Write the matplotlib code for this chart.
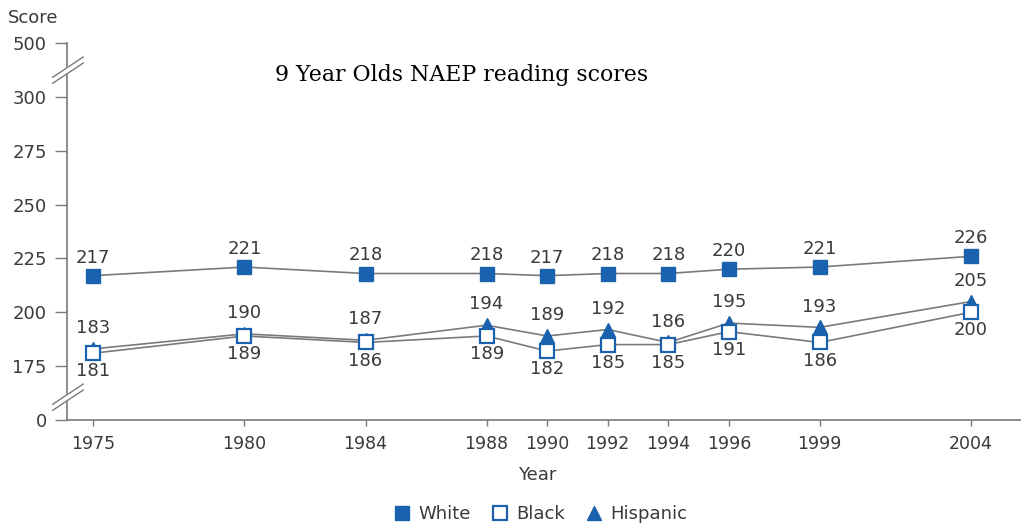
import matplotlib
matplotlib.use("Agg")
import matplotlib.pyplot as plt
from matplotlib.lines import Line2D
import matplotlib.transforms as mtransforms

years = [1975, 1980, 1984, 1988, 1990, 1992, 1994, 1996, 1999, 2004]
white = [217, 221, 218, 218, 217, 218, 218, 220, 221, 226]
black = [181, 189, 186, 189, 182, 185, 185, 191, 186, 200]
hispanic = [183, 190, 187, 194, 189, 192, 186, 195, 193, 205]

# broken axis: 0 is drawn at 150, 500 at 325
y_ticks = [150, 175, 200, 225, 250, 275, 300, 325]
y_labels = ["0", "175", "200", "225", "250", "275", "300", "500"]

blue = "#1b62ae"
linec = "#7a7a7a"
txt = "#3a3a3a"

plt.rcParams['font.family'] = ['DejaVu Sans']

fig = plt.figure(figsize=(10.21, 5.27), dpi=100)
ax = fig.add_axes([67/1021, 1-420/527, 1-67/1021, (420-43)/527])

ax.plot(years, white, color=linec, lw=1.2, marker='s', ms=10.5, mfc=blue, mec=blue, zorder=3)
ax.plot(years, hispanic, color=linec, lw=1.2, marker='^', ms=10.5, mfc=blue, mec=blue, zorder=3)
ax.plot(years, black, color=linec, lw=1.2, marker='s', ms=10.5, mfc='white', mec=blue, mew=1.6, zorder=4)

for x, w, b, h in zip(years, white, black, hispanic):
    ax.annotate(str(w), (x, w), xytext=(0, 13), textcoords='offset points',
                ha='center', va='center', fontsize=13, color=txt)
    ax.annotate(str(h), (x, h), xytext=(0, 15), textcoords='offset points',
                ha='center', va='center', fontsize=13, color=txt)
    ax.annotate(str(b), (x, b), xytext=(0, -13), textcoords='offset points',
                ha='center', va='center', fontsize=13, color=txt)

ax.set_xlim(1974.14, 2005.65)
ax.set_ylim(150, 325)
ax.set_xticks(years)
ax.set_yticks(y_ticks)
ax.set_yticklabels(y_labels)
ax.tick_params(axis='y', length=8.5, width=1, color=linec, labelsize=13, labelcolor=txt, pad=6)
ax.tick_params(axis='x', length=4, width=1, color=linec, labelsize=12.5, labelcolor=txt, pad=7)
for s in ['top', 'right']:
    ax.spines[s].set_visible(False)
for s in ['left', 'bottom']:
    ax.spines[s].set_color(linec)
    ax.spines[s].set_linewidth(1.2)

# axis break marks
tr = mtransforms.blended_transform_factory(ax.transAxes, ax.transData)
for yb in [160.7, 312.5]:
    x0, x1 = -0.015, 0.017
    ax.fill([x0, x1, x1, x0], [yb - 6.2, yb + 3.2, yb + 6.0, yb - 3.4],
            color='white', transform=tr, clip_on=False, zorder=5)
    ax.plot([x0, x1], [yb - 6.2, yb + 3.2], color=linec, lw=1, transform=tr, clip_on=False, zorder=6)
    ax.plot([x0, x1], [yb - 3.4, yb + 6.0], color=linec, lw=1, transform=tr, clip_on=False, zorder=6)

fig.text(8/1021, 1-18/527, "Score", fontsize=13, color=txt, va='center', ha='left')
fig.text(537/1021, 1-475/527, "Year", fontsize=13, color=txt, va='center', ha='center')
fig.text(275/1021, 1-75/527, "9 Year Olds NAEP reading scores", fontsize=15.8,
         family=['DejaVu Serif'], color='black', va='center', ha='left')

handles = [
    Line2D([], [], ls='none', marker='s', ms=10.5, mfc=blue, mec=blue),
    Line2D([], [], ls='none', marker='s', ms=10.5, mfc='white', mec=blue, mew=1.6),
    Line2D([], [], ls='none', marker='^', ms=10.5, mfc=blue, mec=blue),
]
fig.legend(handles, ["White", "Black", "Hispanic"], loc='center', bbox_to_anchor=(540/1021, 1-514/527),
           ncol=3, frameon=False, fontsize=13, labelcolor=txt, handletextpad=0.4, columnspacing=1.1,
           handlelength=1.0)

fig.savefig("out.png", dpi=100)
